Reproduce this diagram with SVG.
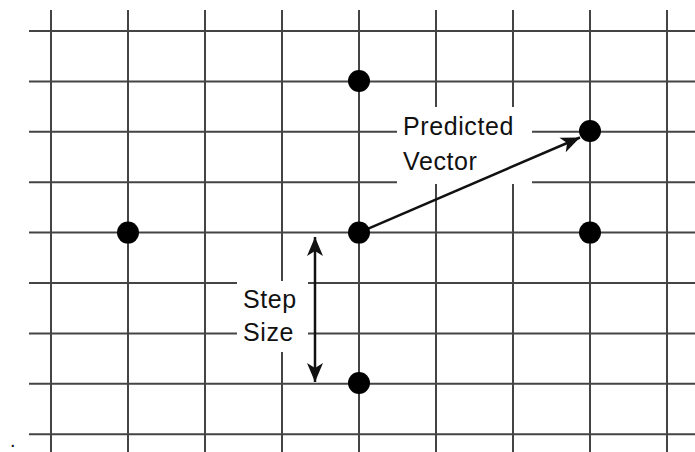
<svg xmlns="http://www.w3.org/2000/svg" width="695" height="452" viewBox="0 0 695 452">
<style>
.grid line{stroke:#444;stroke-width:2}
.dot{fill:#000}
.lbl{font-family:"Liberation Sans",Arial,sans-serif;font-size:25px;fill:#111;letter-spacing:0.6px}
.conn{stroke:#111;stroke-width:2.5;fill:none}
</style>
<defs>
<marker id="ah" markerUnits="userSpaceOnUse" markerWidth="24" markerHeight="20" viewBox="-20 -10 22 20" refX="0" refY="0" orient="auto-start-reverse">
<path d="M0,0 L-19,-8 L-14,0 L-19,8 Z" fill="#111"/>
</marker>
</defs>
<rect width="695" height="452" fill="#fff"/>
<g id="grid" class="grid">
<line x1="51" y1="10" x2="51" y2="452"/>
<line x1="128" y1="10" x2="128" y2="452"/>
<line x1="205" y1="10" x2="205" y2="452"/>
<line x1="282" y1="10" x2="282" y2="452"/>
<line x1="359" y1="10" x2="359" y2="452"/>
<line x1="436" y1="10" x2="436" y2="452"/>
<line x1="513" y1="10" x2="513" y2="452"/>
<line x1="590" y1="10" x2="590" y2="452"/>
<line x1="667" y1="10" x2="667" y2="452"/>
<line x1="29" y1="31" x2="695" y2="31"/>
<line x1="29" y1="81.4" x2="695" y2="81.4"/>
<line x1="29" y1="131.8" x2="695" y2="131.8"/>
<line x1="29" y1="182.2" x2="695" y2="182.2"/>
<line x1="29" y1="232.6" x2="695" y2="232.6"/>
<line x1="29" y1="283" x2="695" y2="283"/>
<line x1="29" y1="333.4" x2="695" y2="333.4"/>
<line x1="29" y1="383.8" x2="695" y2="383.8"/>
<line x1="29" y1="434.2" x2="695" y2="434.2"/>
</g>
<rect x="397" y="107" width="135" height="77" fill="#fff"/>
<rect x="237" y="281" width="71" height="71" fill="#fff"/>
<g id="connectors">
<line class="conn" x1="359" y1="232.6" x2="580" y2="137.5" marker-end="url(#ah)"/>
<line class="conn" x1="315" y1="237" x2="315" y2="382" marker-start="url(#ah)" marker-end="url(#ah)"/>
</g>
<g id="n-top"><circle class="dot" cx="359" cy="81" r="11"/></g>
<g id="n-left"><circle class="dot" cx="128" cy="232.6" r="11"/></g>
<g id="n-center"><circle class="dot" cx="359" cy="232.6" r="11"/></g>
<g id="n-right"><circle class="dot" cx="590" cy="232.6" r="11"/></g>
<g id="n-predicted"><circle class="dot" cx="590" cy="131" r="11"/></g>
<g id="n-bottom"><circle class="dot" cx="359" cy="383" r="11"/></g>
<g id="label-predicted"><text class="lbl" x="403" y="135">Predicted</text><text class="lbl" x="403" y="170">Vector</text></g>
<g id="label-step"><text class="lbl" x="243" y="308">Step</text><text class="lbl" x="243" y="341">Size</text></g>
<text x="10" y="447" font-family="Liberation Sans, Arial, sans-serif" font-size="20" fill="#111">.</text>
</svg>
